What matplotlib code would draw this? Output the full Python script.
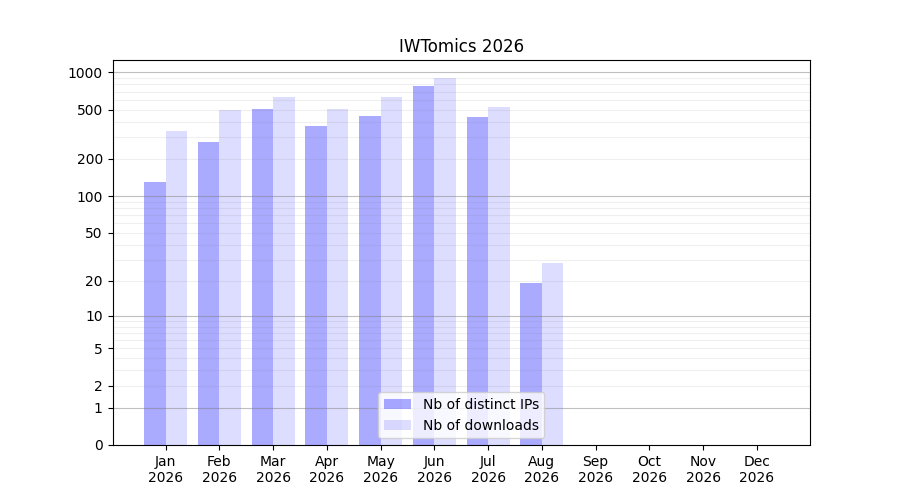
import numpy as np
import matplotlib
matplotlib.use("Agg")
import matplotlib.pyplot as plt

# monthly stats
months = ["Jan", "Feb", "Mar", "Apr", "May", "Jun", "Jul", "Aug", "Sep", "Oct", "Nov", "Dec"]
year = "2026"
distinct_ips = [130, 273, 504, 367, 442, 772, 434, 19, 0, 0, 0, 0]
downloads = [335, 495, 630, 504, 630, 896, 523, 28, 0, 0, 0, 0]
ytick_vals = [0, 1, 2, 5, 10, 20, 50, 100, 200, 500, 1000]


def fwd(y):
    return np.log10(1 + np.asarray(y, dtype=float))


def inv(y):
    return 10 ** np.asarray(y, dtype=float) - 1


fig, ax = plt.subplots(figsize=(9, 5), dpi=100)
x = np.arange(len(months))
w = 0.4

ax.bar(x - w / 2, distinct_ips, w, color="blue", alpha=1 / 3, label="Nb of distinct IPs")
ax.bar(x + w / 2, downloads, w, color="blue", alpha=0.135, label="Nb of downloads")

ax.set_yscale("function", functions=(fwd, inv))
ax.set_yticks(ytick_vals)
ax.set_yticklabels([str(v) for v in ytick_vals])
ax.yaxis.set_minor_locator(matplotlib.ticker.NullLocator())
ylo, yhi = ax.get_ylim()

# grid: darker at decades, lighter for the in-between values
for dec in [1, 10, 100, 1000]:
    ax.axhline(dec, color="0.5", lw=0.8, alpha=0.5, zorder=1.5)
    for m in range(2, 10):
        if dec * m < yhi:
            ax.axhline(dec * m, color="0.5", lw=0.8, alpha=0.12, zorder=1.5)
ax.set_ylim(ylo, yhi)

ax.set_xticks(x)
ax.set_xticklabels([f"{m}\n{year}" for m in months])
ax.set_title("IWTomics 2026")
ax.legend(loc="lower center")

fig.savefig("out.png", dpi=100)
